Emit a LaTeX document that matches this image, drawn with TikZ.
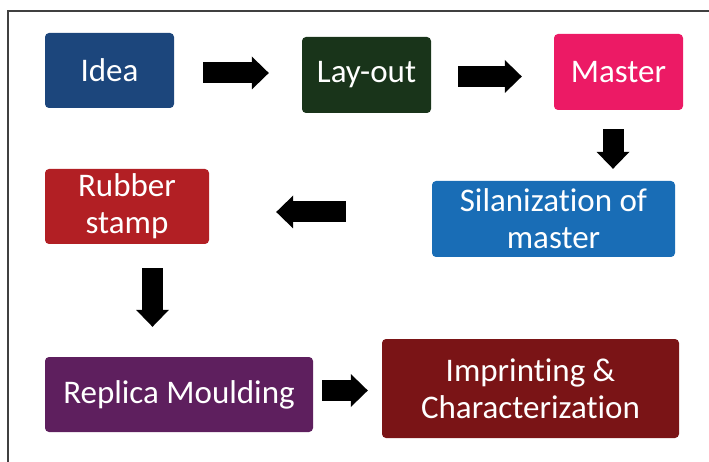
\documentclass[tikz,border=0pt]{standalone}
\usepackage{fontspec}
\setmainfont{Carlito}[Ligatures=NoCommon]
\usepackage{xcolor}
\usetikzlibrary{arrows.meta,positioning}

\definecolor{ideablue}{HTML}{1C467C}
\definecolor{layoutgreen}{HTML}{19341A}
\definecolor{masterpink}{HTML}{EC1A65}
\definecolor{silanblue}{HTML}{196DB6}
\definecolor{stampred}{HTML}{B21F24}
\definecolor{replicapurple}{HTML}{5E1F5E}
\definecolor{imprintred}{HTML}{7A1416}

\begin{document}
\begin{tikzpicture}[
  x=1pt, y=-1pt,
  process/.style={rectangle, rounded corners=4pt, inner sep=0pt, text=white, align=center, font=\fontsize{33}{37}\selectfont},
  arrow/.style={line width=21pt, -{Triangle[width=33pt,length=17pt,line width=0pt 0 0]}}
]
\useasboundingbox (0,0) rectangle (709,462);

% Frame
\draw [line width=1.5pt, black!75] (709,11) -- (8,11) -- (8,462);

% Steps
\node (idea) [process, fill=ideablue, minimum width=129pt, minimum height=75pt] at (109.5,70.5) {Idea};
\node (layout) [process, fill=layoutgreen, minimum width=129pt, minimum height=76pt] at (366.5,75) {Lay-out};
\node (master) [process, fill=masterpink, minimum width=129pt, minimum height=76pt] at (618.5,72) {Master};
\node (silan) [process, fill=silanblue, minimum width=243pt, minimum height=76pt] at (553.5,219) {Silanization of\\master};
\node (stamp) [process, fill=stampred, minimum width=164pt, minimum height=75pt] at (127,206.5) {Rubber\\stamp};
\node (replica) [process, fill=replicapurple, minimum width=268pt, minimum height=75pt] at (179,394.5) {Replica Moulding};
\node (imprint) [process, fill=imprintred, minimum width=297pt, minimum height=99pt] at (530.5,388.5) {Imprinting \&\\Characterization};

% Arrows
\draw [arrow, shorten <=29pt, shorten >=33pt] ([yshift=-2.5pt]idea.east) -- ([yshift=-2.5pt]idea.east -| layout.west);
\draw [arrow, shorten <=27pt, shorten >=32pt] ([yshift=-1.5pt]layout.west -| layout.east) -- ([yshift=-1.5pt]layout.west -| master.west);
\draw [arrow, shorten <=19pt, shorten >=12pt] ([xshift=-5.5pt]master.south) -- ([xshift=-5.5pt]master.south |- silan.north);
\draw [arrow, shorten <=86pt, shorten >=67pt] ([yshift=7pt]silan.west) -- ([yshift=7pt]silan.west -| stamp.east);
\draw [arrow, shorten <=24pt, shorten >=30pt] ([xshift=25.5pt]stamp.south) -- ([xshift=25.5pt]stamp.south |- replica.north);
\draw [arrow, shorten <=9pt, shorten >=14pt] ([yshift=4pt]replica.east) -- ([yshift=4pt]replica.east -| imprint.west);

\end{tikzpicture}
\end{document}
